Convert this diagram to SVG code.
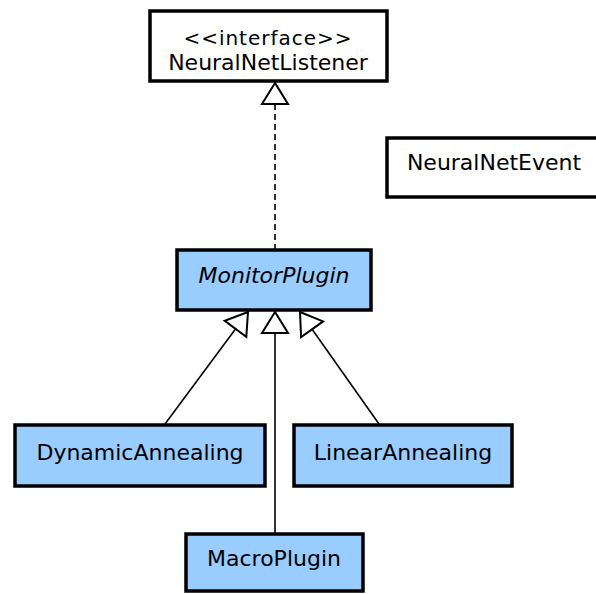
<svg xmlns="http://www.w3.org/2000/svg" width="596" height="594" viewBox="0 0 596 594">
<style>
.box{stroke:#000;stroke-width:3.5}
.cls{fill:#99ccff}
.iface{fill:#fff}
text{font-family:"DejaVu Sans","Liberation Sans",sans-serif;font-size:22px;fill:#000;text-anchor:middle}
.it{font-style:italic}
.sm{font-size:20px}
.edge{stroke:#000;stroke-width:1.6;fill:none}
.head{stroke:#000;stroke-width:2;fill:#fff;stroke-linejoin:miter}
</style>
<rect width="596" height="594" fill="#fff"/>
<g id="connectors">
<line class="edge" x1="275" y1="104" x2="275" y2="249" stroke-dasharray="6,4"/>
<polygon class="head" points="275,83 262,104 288,104"/>
<line class="edge" x1="275" y1="333" x2="275" y2="533"/>
<polygon class="head" points="275,312 262,333 288,333"/>
<line class="edge" x1="235.5" y1="328.9" x2="165" y2="424"/>
<polygon class="head" points="248,312 246.3,336.9 224.7,320.9"/>
<line class="edge" x1="312.1" y1="329.2" x2="379" y2="424"/>
<polygon class="head" points="300,312 323.1,321.4 301.1,337"/>
</g>
<g id="NeuralNetListener">
<rect class="box iface" x="150" y="11" width="237" height="70"/>
<text class="sm" x="268" y="45" letter-spacing="1">&lt;&lt;interface&gt;&gt;</text>
<text x="268" y="70">NeuralNetListener</text>
</g>
<g id="NeuralNetEvent">
<rect class="box iface" x="387" y="138" width="220" height="59"/>
<text x="494" y="170">NeuralNetEvent</text>
</g>
<g id="MonitorPlugin">
<rect class="box cls" x="177" y="250" width="194" height="60"/>
<text class="it" x="274" y="283">MonitorPlugin</text>
</g>
<g id="DynamicAnnealing">
<rect class="box cls" x="15" y="425" width="250" height="61"/>
<text x="140" y="460">DynamicAnnealing</text>
</g>
<g id="LinearAnnealing">
<rect class="box cls" x="294" y="425" width="218" height="61"/>
<text x="403" y="460">LinearAnnealing</text>
</g>
<g id="MacroPlugin">
<rect class="box cls" x="186" y="534" width="177" height="57"/>
<text x="274" y="566">MacroPlugin</text>
</g>
</svg>
